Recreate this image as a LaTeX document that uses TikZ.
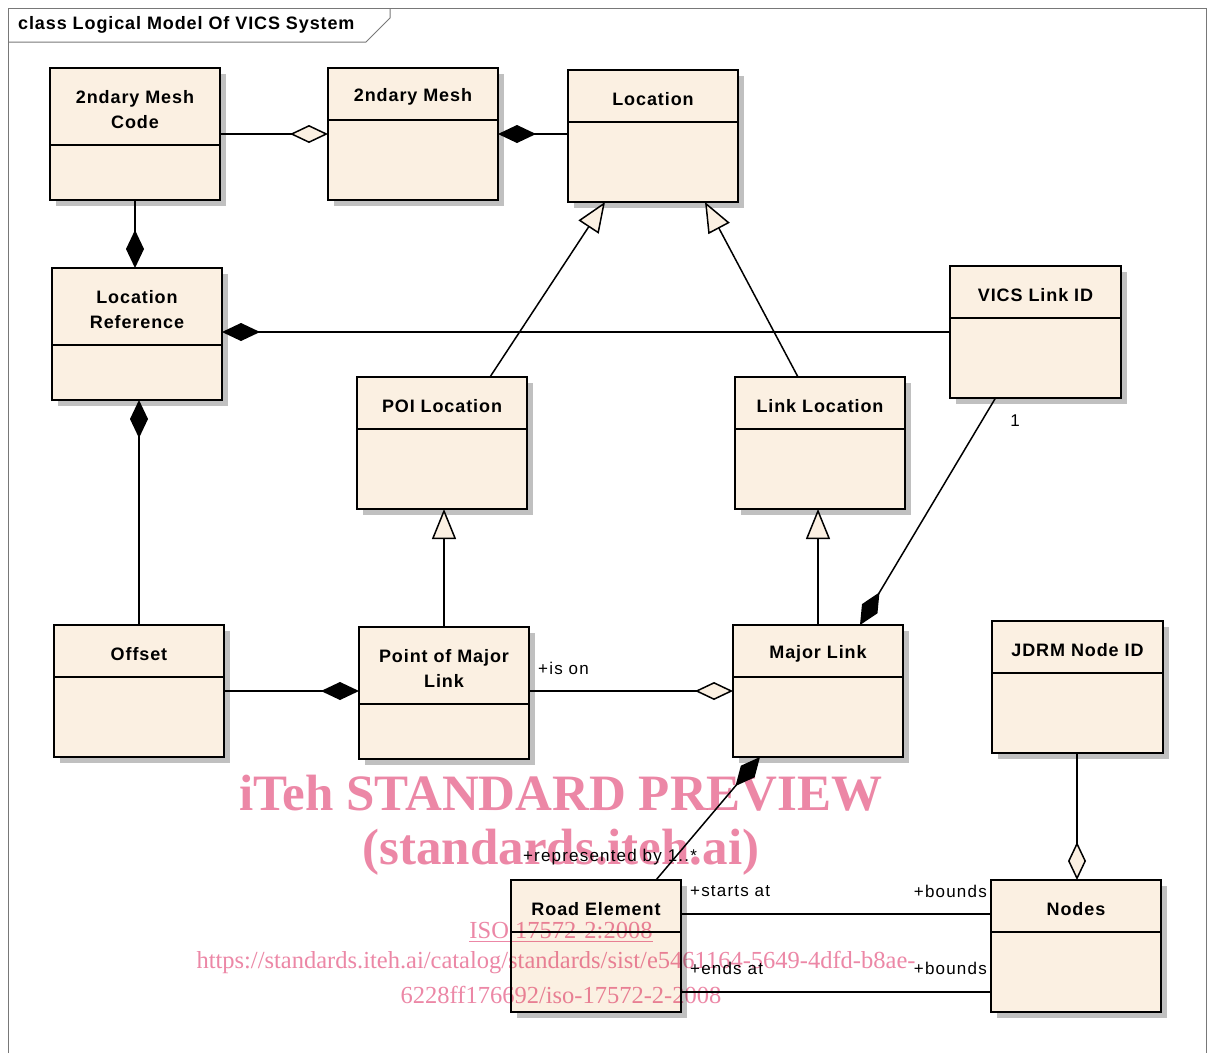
\documentclass[tikz,border=0pt]{standalone}
\usepackage{fontspec}
\setmainfont{Liberation Sans}
\newfontfamily\lsfont[LetterSpace=5]{Liberation Sans}
\newfontfamily\rlfont[LetterSpace=7]{Liberation Sans}
\newfontfamily\wmfont{Liberation Serif}
\usetikzlibrary{arrows.meta,calc}
\definecolor{umlfill}{RGB}{251,240,226}
\definecolor{shadowc}{RGB}{192,192,192}
\definecolor{framec}{RGB}{120,120,120}
\definecolor{wmpink}{RGB}{236,135,166}
\tikzset{
  clsbox/.style={draw=black, line width=1.8pt, fill=umlfill, inner sep=0pt, outer sep=0pt},
  clsname/.style={font=\lsfont\bfseries\fontsize{18}{25}\selectfont, align=center, text=black, inner sep=0pt},
  conn/.style={draw=black, line width=1.5pt},
  hdia/.style={conn, -{Diamond[length=38pt,width=18pt,fill=umlfill]}},
  fdia/.style={conn, -{Diamond[length=38pt,width=18pt]}},
  gen/.style={conn, -{Triangle[length=30pt,width=24pt,fill=umlfill]}},
  role/.style={font=\rlfont\fontsize{17}{19}\selectfont, inner sep=0pt, text=black},
  wmbig/.style={text=wmpink, font=\wmfont\bfseries\fontsize{51}{55}\selectfont, inner sep=0pt},
  wmsmall/.style={text=wmpink, font=\wmfont\fontsize{24.5}{26}\selectfont, inner sep=0pt}
}
\newcommand\umlclass[7]{%
  \fill[shadowc] (#2+6,#3+6) rectangle (#4+6,#5+6);
  \node[clsbox, anchor=north west, minimum width={#4-#2}, minimum height={#5-#3}] (#1) at (#2,#3) {};
  \draw[line width=1.8pt] (#2,#6) -- (#4,#6);
  \node[clsname] (#1-name) at ({(#2+#4)/2},{(#3+#6)/2+3}) {#7};
}
\begin{document}
\begin{tikzpicture}[x=1pt,y=-1pt]
\useasboundingbox (0,0) rectangle (1208,1053);
\fill[white] (0,0) rectangle (1208,1053);
% frame
\draw[framec, line width=1pt] (8,1053) -- (8,8) -- (1206,8) -- (1206,1053);
\draw[framec, line width=1pt] (8,42) -- (366,42) -- (390,18) -- (390,8);
\node[anchor=west, inner sep=0pt, font=\lsfont\bfseries\fontsize{18}{20}\selectfont] (title) at (18,25) {class Logical Model Of VICS System};

% classes
\umlclass{mcode}{50}{68}{220}{200}{145}{2ndary Mesh\\Code}
\umlclass{mesh}{328}{68}{498}{200}{120}{2ndary Mesh}
\umlclass{loc}{568}{70}{738}{202}{122}{Location}
\umlclass{locref}{52}{268}{222}{400}{345}{Location\\Reference}
\umlclass{vics}{950}{266}{1121}{398}{318}{VICS Link ID}
\umlclass{poi}{357}{377}{527}{509}{429}{POI Location}
\umlclass{linkloc}{735}{377}{905}{509}{429}{Link Location}
\umlclass{offset}{54}{625}{224}{757}{677}{Offset}
\umlclass{poml}{359}{627}{529}{759}{704}{Point of Major\\Link}
\umlclass{major}{733}{625}{903}{757}{677}{Major Link}
\umlclass{jdrm}{992}{621}{1163}{753}{673}{JDRM Node ID}
\umlclass{nodes}{991}{880}{1161}{1012}{932}{Nodes}
\umlclass{road}{511}{880}{681}{1012}{932}{Road Element}

% connectors
\draw[hdia] (mcode.east) -- (mesh.west);
\draw[fdia] (mesh.east -| loc.west) -- (mesh.east);
\draw[fdia] (mcode.south) -- (mcode.south |- locref.north);
\draw[fdia] (vics.west |- 0,332) -- (locref.east |- 0,332);
\draw[fdia] (offset.north) -- (offset.north |- locref.south);
\draw[gen] ([xshift=48pt]poi.north) -- ([xshift=-48pt]loc.south);
\draw[gen] ([xshift=-22pt]linkloc.north) -- ([xshift=52pt]loc.south);
\draw[gen] (poml.north) -- (poml.north |- poi.south);
\draw[gen] (major.north) -- (major.north |- linkloc.south);
\draw[fdia] ([xshift=-40pt]vics.south) -- ([xshift=42pt]major.north);
\draw[fdia] (offset.east) -- (offset.east -| poml.west);
\draw[hdia] (major.west -| poml.east) -- (major.west);
\draw[fdia] ([xshift=60pt]road.north) -- ([xshift=-58pt]major.south);
\draw[conn] ([yshift=32pt]road.east) -- ([yshift=32pt]nodes.west);
\draw[conn] ([yshift=-46pt]road.east) -- ([yshift=-46pt]nodes.west);
\draw[hdia] ([xshift=-0.5pt]jdrm.south) -- ([xshift=-0.5pt]jdrm.south |- nodes.north);

% role labels
\node[role] (m1) at (1015,421) {1};
\node[role, anchor=west] (ison) at (538,668) {+is on};
\node[role] (rep) at (610,857) {+represented by 1..*};
\node[role, anchor=west] (starts) at (690,891) {+starts at};
\node[role, anchor=east] (b1) at (987,891) {+bounds};
\node[role, anchor=west] (ends) at (690,968) {+ends at};
\node[role, anchor=east] (b2) at (987,968) {+bounds};

% watermark
\begin{scope}[blend mode=multiply]
\node[wmbig] (wm1) at (561,793) {iTeh STANDARD PREVIEW};
\node[wmbig] (wm2) at (561,852) {(standards.iteh.ai)};
\node[wmsmall] (wm3) at (561,932) {\underline{ISO 17572-2:2008}};
\node[wmsmall] (wm4) at (556,963) {https://standards.iteh.ai/catalog/standards/sist/e5461164-5649-4dfd-b8ae-};
\node[wmsmall] (wm5) at (561,995) {6228ff176692/iso-17572-2-2008};
\end{scope}
\end{tikzpicture}
\end{document}
